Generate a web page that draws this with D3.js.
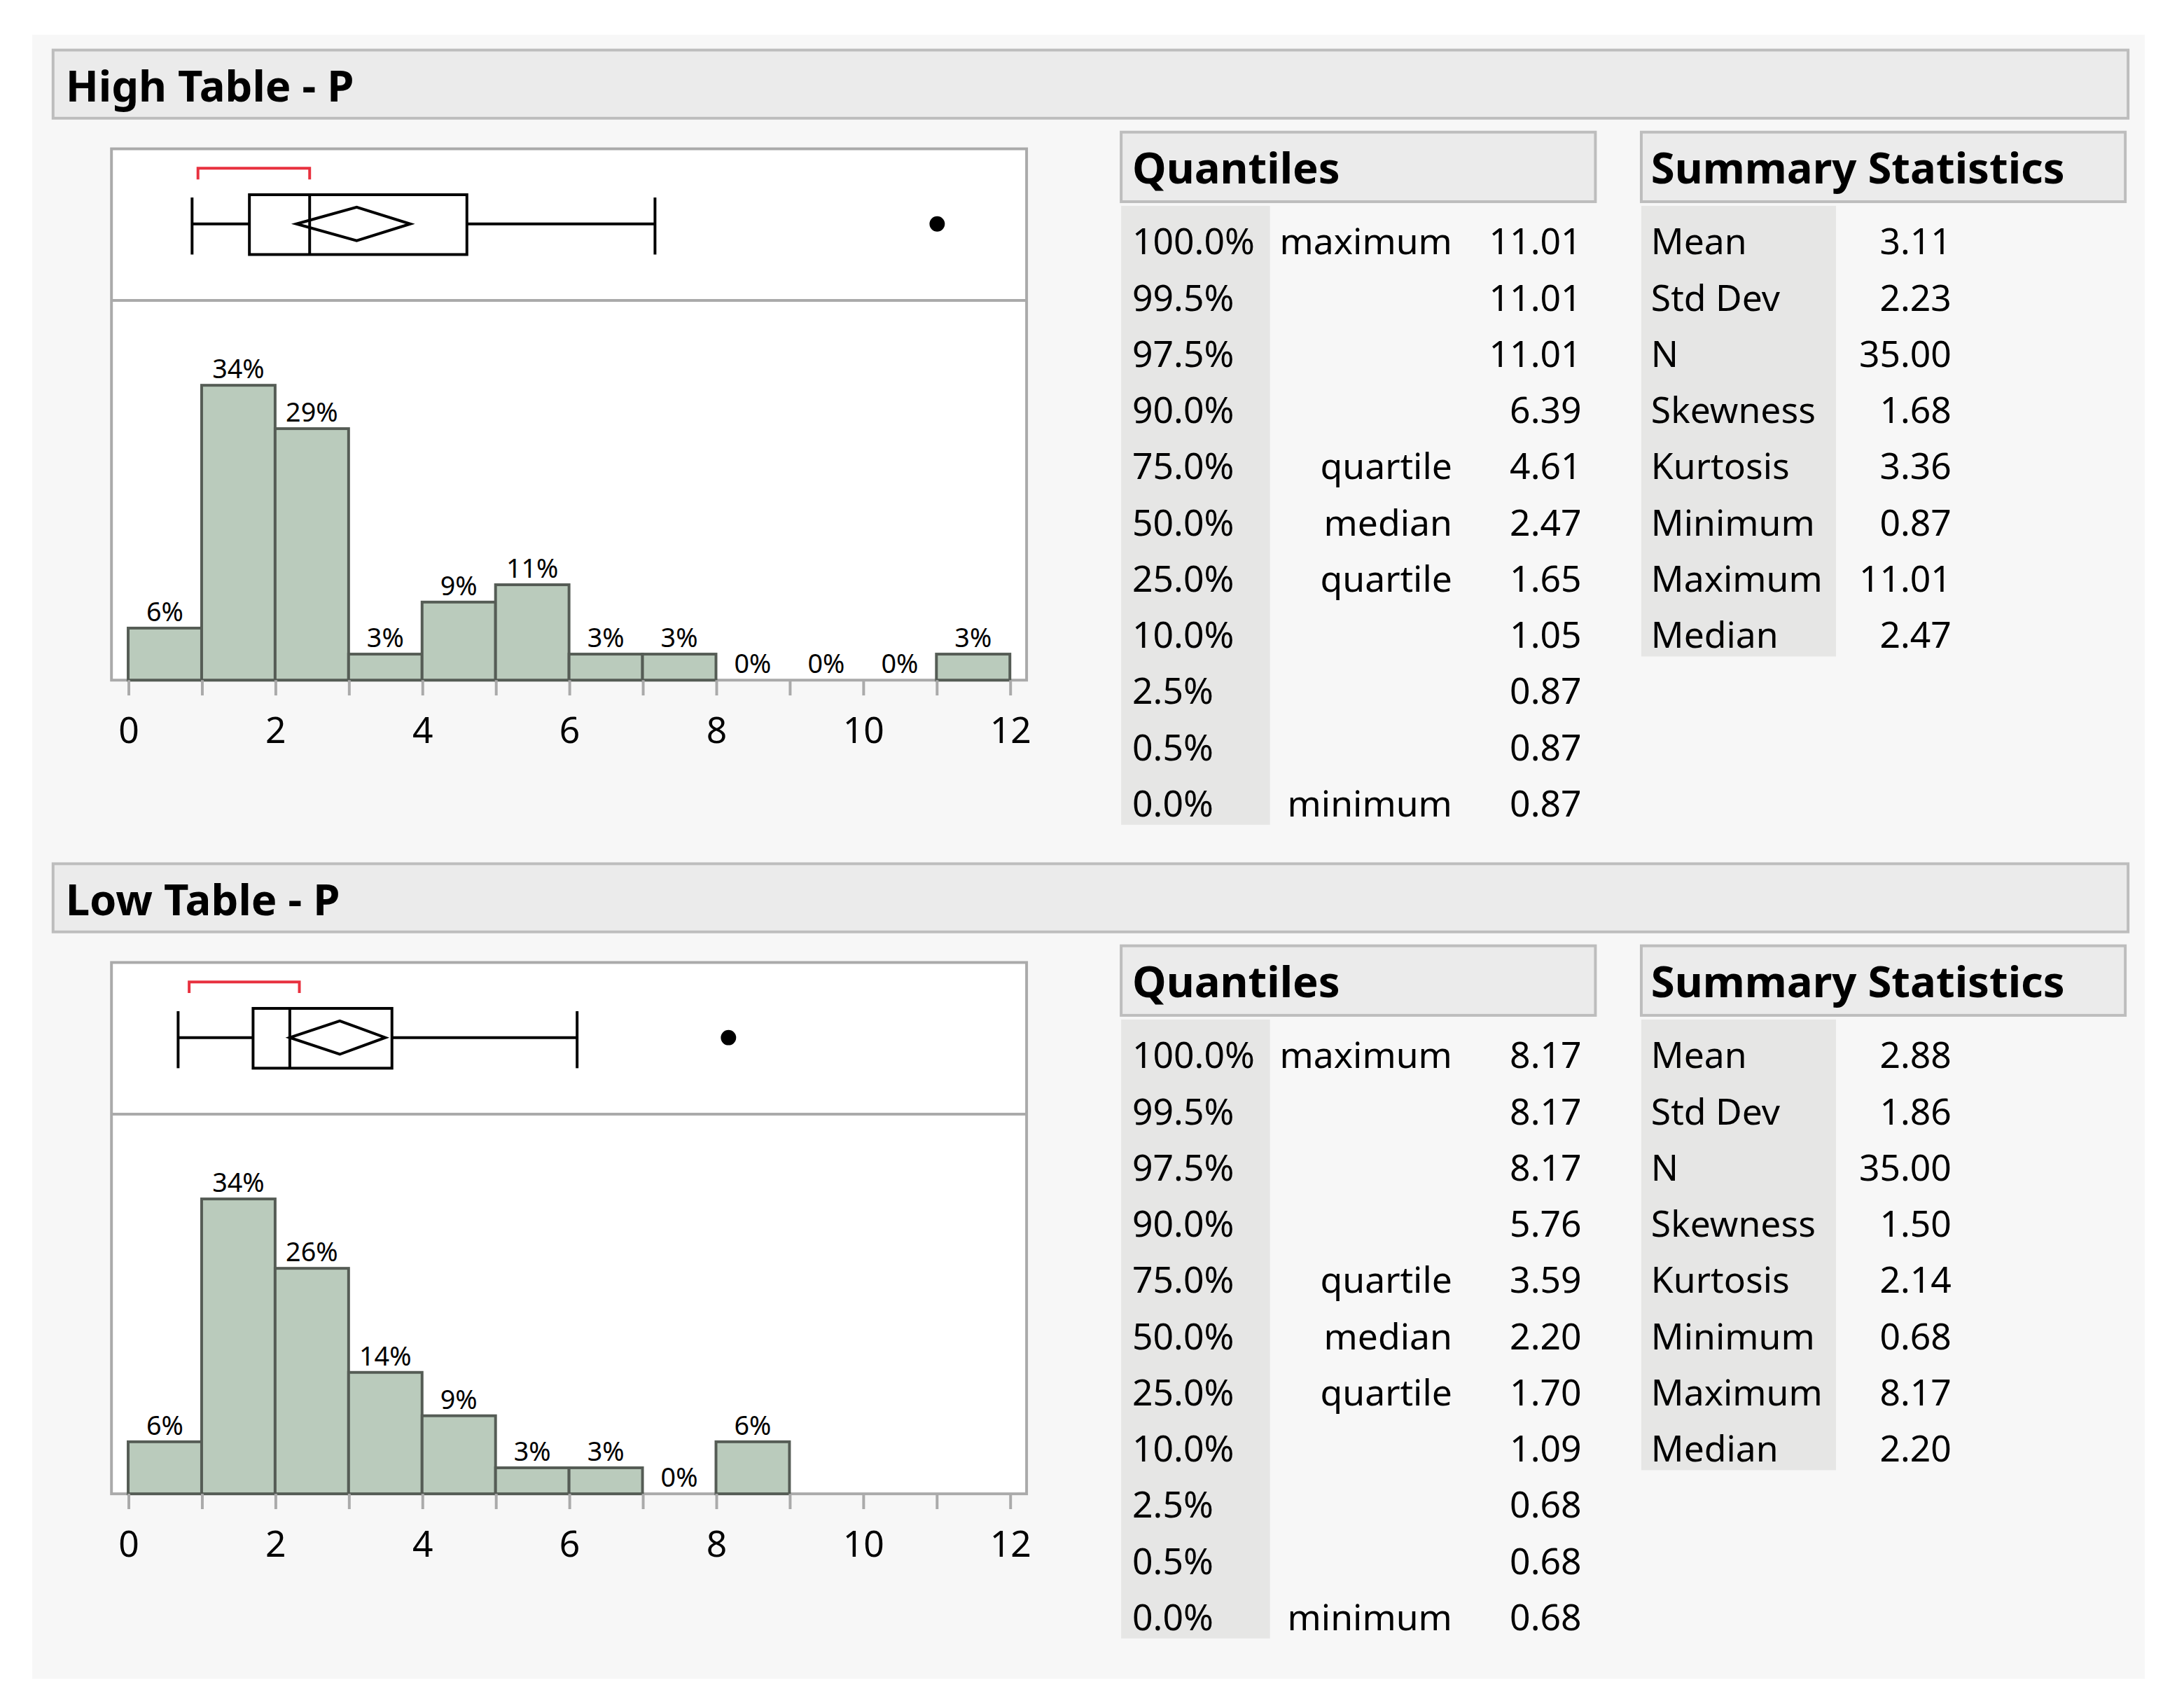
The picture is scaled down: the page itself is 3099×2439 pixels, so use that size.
<!DOCTYPE html>
<html><head><meta charset="utf-8">
<script src="https://cdn.jsdelivr.net/npm/d3@7"></script>
<style>body{margin:0;background:#fff}svg{display:block}text{font-family:"Noto Sans",sans-serif}</style>
</head><body>
<svg id="c" width="3099" height="2439" viewBox="0 0 1560 1228"></svg>
<script>
const titles = ["High Table - P", "Low Table - P"];
const binStarts = [0,1,2,3,4,5,6,7,8,9,10,11];
const highPct = [6,34,29,3,9,11,3,3,0,0,0,3];
const lowPct = [6,34,26,14,9,3,3,0,6];
// box: whiskerLo, q1, median, q3, whiskerHi, outlier, meanLo, mean, meanHi, shortLo, shortHi
const highBox = [0.87,1.65,2.47,4.61,7.17,11.01,2.29,3.11,3.84,0.95,2.47];
const lowBox = [0.68,1.70,2.20,3.59,6.11,8.17,2.20,2.88,3.50,0.83,2.33];
const qPct = ["100.0%","99.5%","97.5%","90.0%","75.0%","50.0%","25.0%","10.0%","2.5%","0.5%","0.0%"];
const qName = ["maximum","","","","quartile","median","quartile","","","","minimum"];
const highQ = ["11.01","11.01","11.01","6.39","4.61","2.47","1.65","1.05","0.87","0.87","0.87"];
const lowQ = ["8.17","8.17","8.17","5.76","3.59","2.20","1.70","1.09","0.68","0.68","0.68"];
const statNames = ["Mean","Std Dev","N","Skewness","Kurtosis","Minimum","Maximum","Median"];
const highStats = ["3.11","2.23","35.00","1.68","3.36","0.87","11.01","2.47"];
const lowStats = ["2.88","1.86","35.00","1.50","2.14","0.68","8.17","2.20"];
const xTicks = [0,2,4,6,8,10,12];

const svg = d3.select("#c");
svg.append("rect").attr("x",23).attr("y",25).attr("width",1519).attr("height",1182).attr("fill","#f7f7f7");

const x = d3.scaleLinear([0,12],[92,726]);
const y = d3.scaleLinear([0,34],[489,277]);

function section(dy, title, pct, box, q, stats) {
  const g = svg.append("g").attr("transform",`translate(0,${dy})`);
  g.append("rect").attr("x",38).attr("y",36).attr("width",1492).attr("height",49)
    .attr("fill","#ebebeb").attr("stroke","#bdbdbd").attr("stroke-width",2);
  g.append("text").attr("x",47).attr("y",73).attr("font-size",31).attr("font-weight","bold").text(title);

  // frames
  g.append("rect").attr("x",80).attr("y",107).attr("width",658).attr("height",382)
    .attr("fill","#fff").attr("stroke","#aaa").attr("stroke-width",2);
  g.append("line").attr("x1",80).attr("x2",738).attr("y1",216).attr("y2",216).attr("stroke","#aaa").attr("stroke-width",2);

  // histogram
  const bars = pct.map((p,i)=>({x0:binStarts[i],p}));
  g.selectAll("rect.bar").data(bars.filter(d=>d.p>0)).join("rect").attr("class","bar")
    .attr("x",d=>x(d.x0)).attr("width",x(1)-x(0)).attr("y",d=>y(d.p)).attr("height",d=>y(0)-y(d.p))
    .attr("fill","#bacbbc").attr("stroke","#555c55").attr("stroke-width",2);
  g.selectAll("text.lab").data(bars).join("text").attr("class","lab")
    .attr("x",d=>x(d.x0+0.5)).attr("y",d=>y(d.p)-5).attr("text-anchor","middle").attr("font-size",19)
    .text(d=>d.p+"%");

  // axis
  const ax = g.append("g").attr("transform","translate(0,489)")
    .call(d3.axisBottom(x).tickValues(d3.range(0,13)).tickSize(11).tickFormat(d=>xTicks.includes(d)?d:""));
  ax.select(".domain").remove();
  ax.selectAll("line").attr("stroke","#aaa").attr("stroke-width",2);
  ax.selectAll("text").attr("font-size",26).attr("dy","1.2em").attr("fill","#000").attr("font-family","Noto Sans");

  // box plot
  const [wl,q1,md,q3,wh,out,ml,mn,mh,sl,sh] = box;
  const cy = 161;
  const bp = g.append("g").attr("stroke","#000").attr("stroke-width",2).attr("fill","none");
  bp.append("line").attr("x1",x(wl)).attr("x2",x(q1)).attr("y1",cy).attr("y2",cy);
  bp.append("line").attr("x1",x(q3)).attr("x2",x(wh)).attr("y1",cy).attr("y2",cy);
  bp.append("line").attr("x1",x(wl)).attr("x2",x(wl)).attr("y1",cy-19).attr("y2",cy+22);
  bp.append("line").attr("x1",x(wh)).attr("x2",x(wh)).attr("y1",cy-19).attr("y2",cy+22);
  bp.append("rect").attr("x",x(q1)).attr("y",cy-21).attr("width",x(q3)-x(q1)).attr("height",43);
  bp.append("line").attr("x1",x(md)).attr("x2",x(md)).attr("y1",cy-21).attr("y2",cy+22);
  bp.append("path").attr("d",`M${x(ml)},${cy}L${x(mn)},${cy-12}L${x(mh)},${cy}L${x(mn)},${cy+12}Z`);
  g.append("circle").attr("cx",x(out)).attr("cy",cy).attr("r",5.5).attr("fill","#000");
  g.append("path").attr("d",`M${x(sl)},${cy-32}V${cy-40}H${x(sh)}V${cy-32}`)
    .attr("stroke","#e8313f").attr("stroke-width",2).attr("fill","none");

  // quantiles table
  g.append("rect").attr("x",806).attr("y",95).attr("width",341).attr("height",50)
    .attr("fill","#ebebeb").attr("stroke","#bdbdbd").attr("stroke-width",2);
  g.append("text").attr("x",814).attr("y",132).attr("font-size",31).attr("font-weight","bold").text("Quantiles");
  g.append("rect").attr("x",806).attr("y",148).attr("width",107).attr("height",445).attr("fill","#e6e6e5");
  const rowY = i => 183 + i*40.4;
  qPct.forEach((p,i)=>{
    g.append("text").attr("x",814).attr("y",rowY(i)).attr("font-size",26).text(p);
    g.append("text").attr("x",1044).attr("y",rowY(i)).attr("font-size",26).attr("text-anchor","end").text(qName[i]);
    g.append("text").attr("x",1137).attr("y",rowY(i)).attr("font-size",26).attr("text-anchor","end").text(q[i]);
  });

  // summary statistics
  g.append("rect").attr("x",1180).attr("y",95).attr("width",348).attr("height",50)
    .attr("fill","#ebebeb").attr("stroke","#bdbdbd").attr("stroke-width",2);
  g.append("text").attr("x",1187).attr("y",132).attr("font-size",31).attr("font-weight","bold").text("Summary Statistics");
  g.append("rect").attr("x",1180).attr("y",148).attr("width",140).attr("height",324).attr("fill","#e6e6e5");
  statNames.forEach((s,i)=>{
    g.append("text").attr("x",1187).attr("y",rowY(i)).attr("font-size",26).text(s);
    g.append("text").attr("x",1403).attr("y",rowY(i)).attr("font-size",26).attr("text-anchor","end").text(stats[i]);
  });
}

section(0, titles[0], highPct, highBox, highQ, highStats);
section(585, titles[1], lowPct, lowBox, lowQ, lowStats);
</script>
</body></html>
